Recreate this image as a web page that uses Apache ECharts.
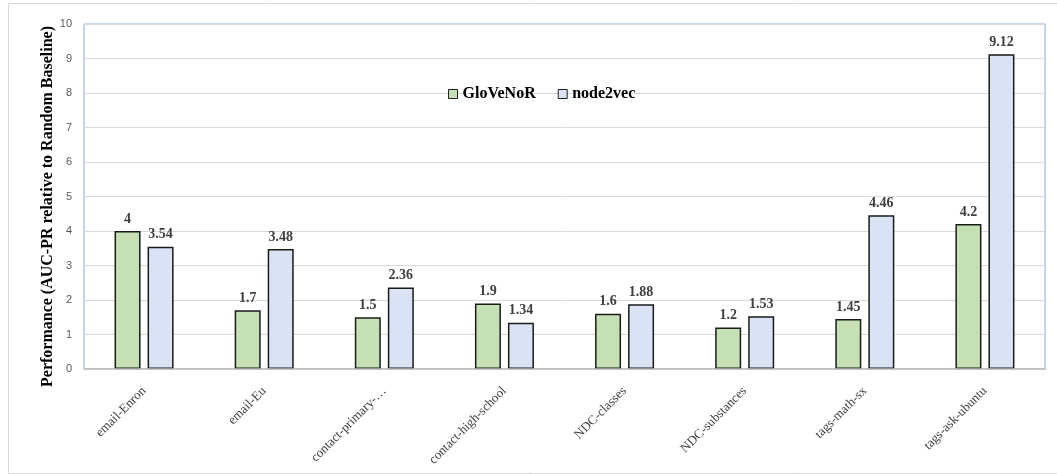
<!DOCTYPE html>
<html><head><meta charset="utf-8">
<script src="https://cdn.jsdelivr.net/npm/echarts@6/dist/echarts.min.js"></script>
<style>html,body{margin:0;padding:0;background:#fff}#c{width:1057px;height:474px}</style>
</head><body><div id="c"></div>
<script>
const categories = ['email-Enron','email-Eu','contact-primary-…','contact-high-school','NDC-classes','NDC-substances','tags-math-sx','tags-ask-ubuntu'];
const gloveNoR = [4, 1.7, 1.5, 1.9, 1.6, 1.2, 1.45, 4.2];
const node2vec = [3.54, 3.48, 2.36, 1.34, 1.88, 1.53, 4.46, 9.12];
const yTicks = [0,1,2,3,4,5,6,7,8,9,10];

const chart = echarts.init(document.getElementById('c'), null, {renderer:'canvas'});
const serif = '"Liberation Serif","Times New Roman",serif';
const labelStyle = {show:true, position:'top', distance:5, fontFamily:serif, fontWeight:'bold', fontSize:14, color:'#404040'};
chart.setOption({
  animation:false,
  graphic:[{type:'rect', shape:{x:8.5,y:3.5,width:1060,height:470}, style:{fill:'none', stroke:'#d9d9d9', lineWidth:1}, silent:true}],
  grid:{left:84, right:12, top:24, bottom:105, show:true, borderColor:'#8faadc', borderWidth:1},
  legend:{top:81, left:443, icon:'rect', itemWidth:9, itemHeight:9, itemGap:22,
    itemStyle:{borderColor:'#222', borderWidth:1},
    textStyle:{fontFamily:serif, fontWeight:'bold', fontSize:16, color:'#000'},
    data:['GloVeNoR','node2vec']},
  xAxis:{type:'category', data:categories, z:5,
    axisLine:{lineStyle:{color:'#bfbfbf', width:1.5}}, axisTick:{show:false},
    axisLabel:{rotate:45, interval:0, margin:20, fontFamily:serif, fontSize:13, color:'#404040'}},
  yAxis:{type:'value', min:yTicks[0], max:yTicks[yTicks.length-1], interval:1,
    name:'Performance (AUC-PR relative to Random Baseline)', nameLocation:'middle', nameGap:28, nameRotate:90,
    nameMoveOverlap:false,
    nameTextStyle:{fontFamily:serif, fontWeight:'bold', fontSize:16, color:'#000', padding:[0,20,0,0]},
    axisLine:{show:false}, axisTick:{show:false},
    axisLabel:{fontFamily:'"Liberation Sans",Arial,sans-serif', fontSize:11, color:'#595959', margin:12},
    splitLine:{lineStyle:{color:'#d9d9d9', width:1}}},
  series:[
    {name:'GloVeNoR', type:'bar', data:gloveNoR, barWidth:26, barGap:'27%',
      itemStyle:{color:'#c5e0b4', borderColor:'#1a1a1a', borderWidth:1.5}, label:labelStyle},
    {name:'node2vec', type:'bar', data:node2vec, barWidth:26,
      itemStyle:{color:'#dae3f3', borderColor:'#1a1a1a', borderWidth:1.5}, label:labelStyle}
  ]
});
</script></body></html>
